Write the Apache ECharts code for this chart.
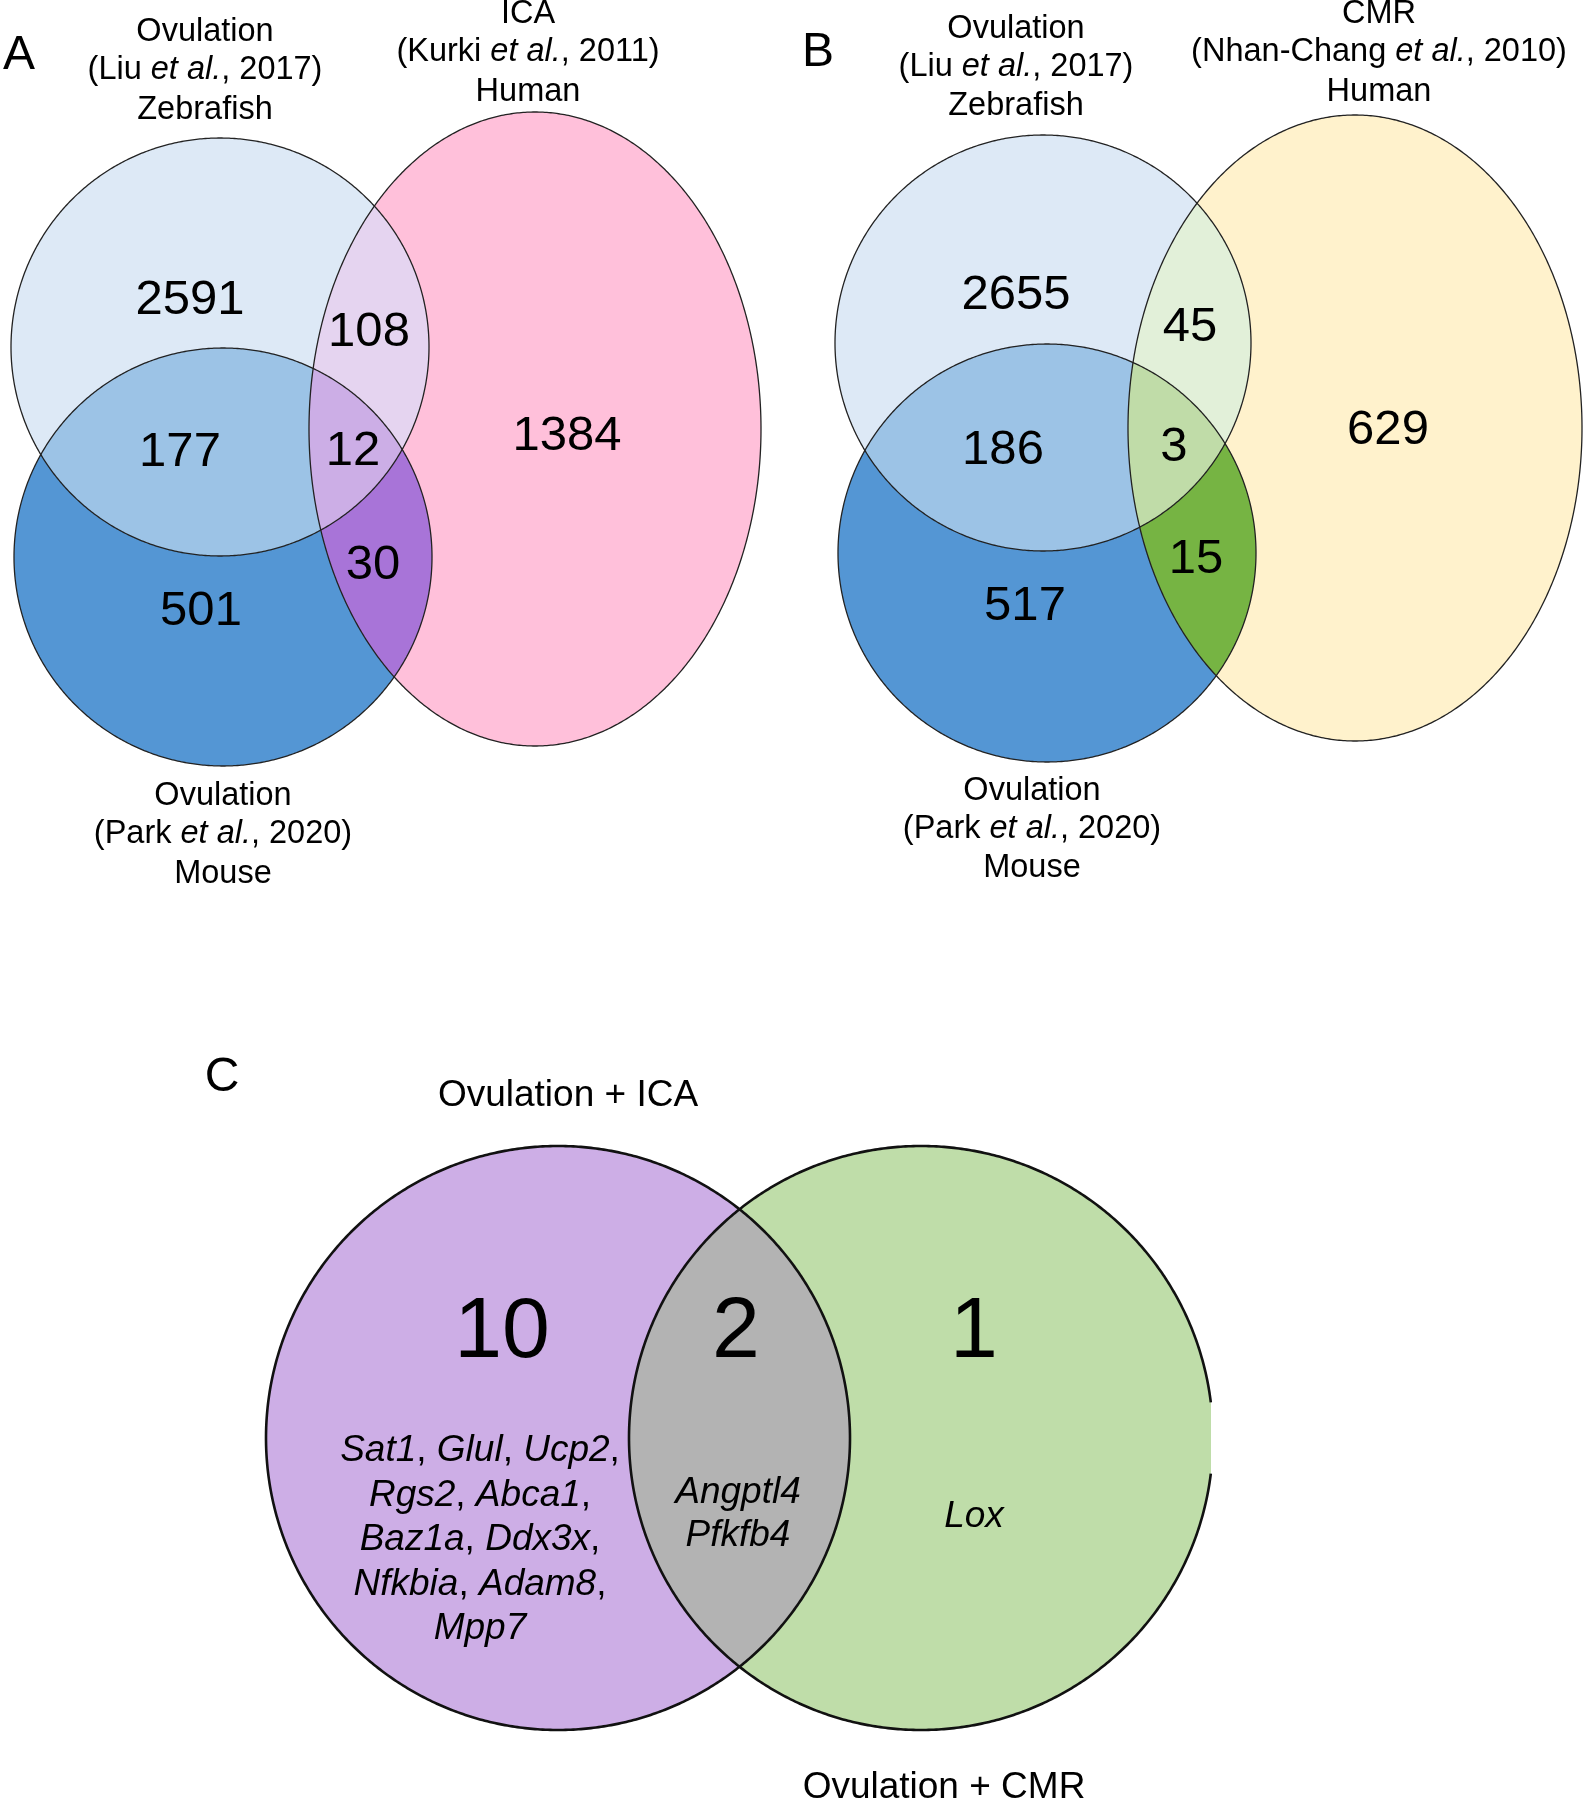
<!DOCTYPE html>
<html><head><meta charset="utf-8">
<script src="https://cdn.jsdelivr.net/npm/echarts@6/dist/echarts.min.js"></script>
<style>html,body{margin:0;padding:0;background:#fff}#c{width:1583px;height:1800px}</style>
</head><body><div id="c"></div>
<script>
// ================= DATA =================
// Panel A: Ovulation (zebrafish, mouse) vs ICA (human)
const regionKeysA = ['Z', 'M', 'H', 'ZM', 'ZH', 'MH', 'ZMH'];
const countsA = [2591, 501, 1384, 177, 108, 30, 12];
const setTitlesA = {
  Z: ['Ovulation', '(Liu et al., 2017)', 'Zebrafish'],
  H: ['ICA', '(Kurki et al., 2011)', 'Human'],
  M: ['Ovulation', '(Park et al., 2020)', 'Mouse']
};
// Panel B: Ovulation (zebrafish, mouse) vs CMR (human)
const regionKeysB = ['Z', 'M', 'C', 'ZM', 'ZC', 'MC', 'ZMC'];
const countsB = [2655, 517, 629, 186, 45, 15, 3];
const setTitlesB = {
  Z: ['Ovulation', '(Liu et al., 2017)', 'Zebrafish'],
  C: ['CMR', '(Nhan-Chang et al., 2010)', 'Human'],
  M: ['Ovulation', '(Park et al., 2020)', 'Mouse']
};
// Panel C: Ovulation + ICA vs Ovulation + CMR
const regionKeysC = ['I', 'R', 'IR'];
const countsC = [10, 1, 2];
const genesC = [
  ['Sat1, Glul, Ucp2,', 'Rgs2, Abca1,', 'Baz1a, Ddx3x,', 'Nfkbia, Adam8,', 'Mpp7'],
  ['Lox'],
  ['Angptl4', 'Pfkfb4']
];
const setTitlesC = { I: ['Ovulation + ICA'], R: ['Ovulation + CMR'] };
const panelLetters = ['A', 'B', 'C'];

// ================= LAYOUT / STYLE =================
const FONT = '"Liberation Sans", Arial, Helvetica, sans-serif';
const layout = {
  A: {
    keys: regionKeysA, counts: countsA, titles: setTitlesA,
    shapes: { Z: [220, 347, 209, 209], M: [223, 557, 209, 209], H: [535, 429, 226, 317] },
    colors: { Z: '#dde9f6', M: '#5496d4', H: '#ffc0da', ZM: '#9cc3e6', ZH: '#e5d4f0', MH: '#a874d8', ZMH: '#ccaee6' },
    countPos: { Z: [190, 300], M: [201, 611], H: [567, 436], ZM: [180, 452], ZH: [369, 332], MH: [373, 565], ZMH: [353, 451] },
    titlePos: { Z: [205, [32, 70, 110]], H: [528, [14, 52, 92]], M: [223, [796, 834, 874]] },
    countSize: 49, titleSize: 32.5, stroke: '#222', lw: 1.3, clipX: 1583
  },
  B: {
    keys: regionKeysB, counts: countsB, titles: setTitlesB,
    shapes: { Z: [1043, 343, 208, 208], M: [1047, 553, 209, 209], C: [1355, 428, 227, 313] },
    colors: { Z: '#dde9f6', M: '#5496d4', C: '#fff2cc', ZM: '#9cc3e6', ZC: '#e2f0d9', MC: '#76b443', ZMC: '#c0dca8' },
    countPos: { Z: [1016, 295], M: [1025, 606], C: [1388, 430], ZM: [1003, 450], ZC: [1190, 327], MC: [1196, 559], ZMC: [1174, 447] },
    titlePos: { Z: [1016, [29, 67, 106]], C: [1379, [14, 52, 92]], M: [1032, [791, 829, 868]] },
    countSize: 49, titleSize: 32.5, stroke: '#222', lw: 1.3, clipX: 1583
  },
  C: {
    keys: regionKeysC, counts: countsC, titles: setTitlesC,
    shapes: { I: [558, 1438, 292, 292], R: [921, 1438, 292, 292] },
    colors: { I: '#cdaee6', R: '#bfdda9', IR: '#b3b3b3' },
    countPos: { I: [502, 1333], R: [974, 1333], IR: [736, 1333] },
    genePos: { I: [480, 1451, 44.5], R: [974, 1517, 43], IR: [738, 1493, 43] },
    titlePos: { I: [568, [1096]], R: [944, [1788]] },
    countSize: 86, titleSize: 37, geneSize: 37, stroke: '#111', lw: 2.6, clipX: 1211
  }
};
const letterPos = [[19, 56], [818, 53], [222, 1078]];

// ================= GEOMETRY HELPERS =================
function ellipsePoly(s, n) {
  n = n || 720;
  const pts = [];
  for (let i = 0; i < n; i++) {
    const t = Math.PI + (i / n) * Math.PI * 2;
    pts.push([s[0] + s[2] * Math.cos(t), s[1] + s[3] * Math.sin(t)]);
  }
  return pts;
}
function orient(poly) {
  let a = 0;
  for (let i = 0; i < poly.length; i++) {
    const p = poly[i], q = poly[(i + 1) % poly.length];
    a += p[0] * q[1] - q[0] * p[1];
  }
  return a >= 0 ? 1 : -1;
}
function clip(subject, clipPoly) {
  const o = orient(clipPoly);
  let out = subject;
  for (let i = 0; i < clipPoly.length && out.length; i++) {
    const a = clipPoly[i], b = clipPoly[(i + 1) % clipPoly.length];
    const inside = p => o * ((b[0] - a[0]) * (p[1] - a[1]) - (b[1] - a[1]) * (p[0] - a[0])) >= 0;
    const inter = (p, q) => {
      const x1 = p[0], y1 = p[1], x2 = q[0], y2 = q[1];
      const x3 = a[0], y3 = a[1], x4 = b[0], y4 = b[1];
      const d = (x1 - x2) * (y3 - y4) - (y1 - y2) * (x3 - x4);
      const t = ((x1 - x3) * (y3 - y4) - (y1 - y3) * (x3 - x4)) / d;
      return [x1 + t * (x2 - x1), y1 + t * (y2 - y1)];
    };
    const input = out; out = [];
    for (let j = 0; j < input.length; j++) {
      const cur = input[j], prev = input[(j + input.length - 1) % input.length];
      const ci = inside(cur), pi = inside(prev);
      if (ci) { if (!pi) out.push(inter(prev, cur)); out.push(cur); }
      else if (pi) out.push(inter(prev, cur));
    }
  }
  return out;
}
function rectPoly(x0, y0, x1, y1) { return [[x0, y0], [x1, y0], [x1, y1], [x0, y1]]; }
function richEtAl(line) { return line.replace(/et al\./g, '{i|et al.}'); }
function richGenes(line) { return line.replace(/[A-Za-z0-9]+/g, m => '{i|' + m + '}'); }

// ================= SERIES BUILDERS =================
function regionSeries(name) {
  const P = layout[name];
  return {
    type: 'custom', coordinateSystem: 'cartesian2d', silent: true, z: 1, clip: false,
    data: P.keys.map(k => P.countPos[k]),
    renderItem(params, api) {
      const key = P.keys[params.dataIndex];
      let poly = ellipsePoly(P.shapes[key[0]]);
      for (let j = 1; j < key.length; j++) poly = clip(poly, ellipsePoly(P.shapes[key[j]]));
      poly = clip(poly, rectPoly(0, 0, P.clipX, 1800));
      return { type: 'polygon', shape: { points: poly.map(p => api.coord(p)) }, style: { fill: P.colors[key], stroke: null } };
    }
  };
}
function outlineSeries(name) {
  const P = layout[name];
  const sets = Object.keys(P.shapes);
  return {
    type: 'custom', coordinateSystem: 'cartesian2d', silent: true, z: 2, clip: false,
    data: sets.map(k => [P.shapes[k][0], P.shapes[k][1]]),
    renderItem(params, api) {
      const poly = ellipsePoly(P.shapes[sets[params.dataIndex]]);
      poly.push(poly[0]);
      const runs = []; let cur = [];
      poly.forEach(p => {
        if (p[0] <= P.clipX) cur.push(api.coord(p));
        else if (cur.length) { runs.push(cur); cur = []; }
      });
      if (cur.length) runs.push(cur);
      return { type: 'group', children: runs.map(r => ({ type: 'polyline', shape: { points: r }, style: { fill: null, stroke: P.stroke, lineWidth: P.lw } })) };
    }
  };
}
function textEl(api, pos, text, size, rich) {
  const c = api.coord(pos);
  const st = { text: text, x: 0, y: 0, fill: '#000', fontSize: size, fontFamily: FONT, align: 'center', verticalAlign: 'middle' };
  if (rich) st.rich = { i: { fontStyle: 'italic', fontSize: size, fontFamily: FONT, fill: '#000' } };
  return { type: 'text', x: c[0], y: c[1], style: st };
}
function countSeries(name) {
  const P = layout[name];
  return {
    type: 'custom', coordinateSystem: 'cartesian2d', silent: true, z: 3, clip: false,
    data: P.keys.map(k => P.countPos[k]),
    renderItem(params, api) {
      const key = P.keys[params.dataIndex];
      return textEl(api, P.countPos[key], String(P.counts[params.dataIndex]), P.countSize, false);
    }
  };
}
function titleSeries(name) {
  const P = layout[name];
  const sets = Object.keys(P.titles);
  return {
    type: 'custom', coordinateSystem: 'cartesian2d', silent: true, z: 3, clip: false,
    data: sets.map(k => [P.titlePos[k][0], P.titlePos[k][1][0]]),
    renderItem(params, api) {
      const k = sets[params.dataIndex];
      const lines = P.titles[k], tp = P.titlePos[k];
      return { type: 'group', children: lines.map((ln, i) => textEl(api, [tp[0], tp[1][i]], richEtAl(ln), P.titleSize, true)) };
    }
  };
}
function geneSeries() {
  const P = layout.C;
  return {
    type: 'custom', coordinateSystem: 'cartesian2d', silent: true, z: 3, clip: false,
    data: P.keys.map(k => P.genePos[k]),
    renderItem(params, api) {
      const k = P.keys[params.dataIndex];
      const gp = P.genePos[k];
      return { type: 'group', children: genesC[params.dataIndex].map((ln, i) => textEl(api, [gp[0], gp[1] + i * gp[2]], richGenes(ln), P.geneSize, true)) };
    }
  };
}
function letterSeries() {
  return {
    type: 'custom', coordinateSystem: 'cartesian2d', silent: true, z: 3, clip: false,
    data: letterPos,
    renderItem(params, api) {
      return textEl(api, letterPos[params.dataIndex], panelLetters[params.dataIndex], 48, false);
    }
  };
}

const chart = echarts.init(document.getElementById('c'), null, { renderer: 'canvas' });
chart.setOption({
  backgroundColor: '#ffffff',
  animation: false,
  grid: { left: 0, right: 0, top: 0, bottom: 0 },
  xAxis: { type: 'value', min: 0, max: 1583, show: false },
  yAxis: { type: 'value', min: 0, max: 1800, inverse: true, show: false },
  series: [
    regionSeries('A'), regionSeries('B'), regionSeries('C'),
    outlineSeries('A'), outlineSeries('B'), outlineSeries('C'),
    countSeries('A'), countSeries('B'), countSeries('C'),
    titleSeries('A'), titleSeries('B'), titleSeries('C'),
    geneSeries(), letterSeries()
  ]
});
</script></body></html>
